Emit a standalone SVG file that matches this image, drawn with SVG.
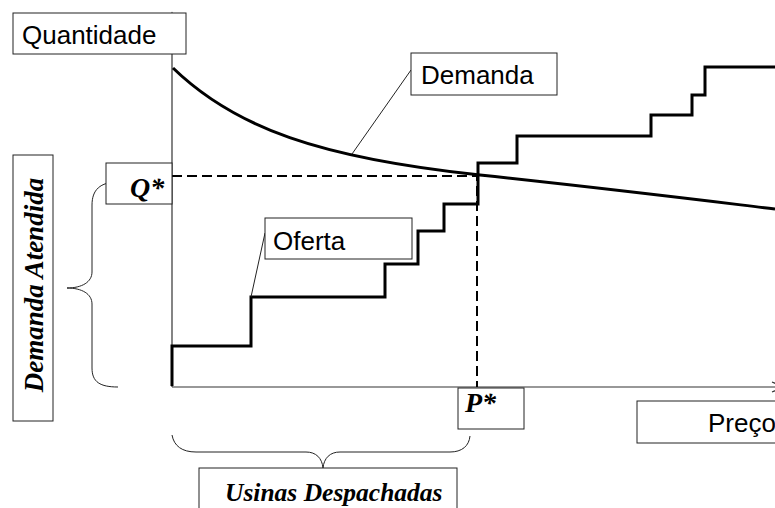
<svg xmlns="http://www.w3.org/2000/svg" width="775" height="508" viewBox="0 0 775 508">
  <style>
    .box { fill: #fff; stroke: #222; stroke-width: 1; }
    .sans { font-family: "Liberation Sans", Arial, sans-serif; font-size: 26px; fill: #000; }
    .serif { font-family: "Liberation Serif", "Times New Roman", serif; font-size: 25px; font-weight: bold; font-style: italic; fill: #000; }
    .big { font-size: 28px; }
    .axis { fill: none; stroke: #333; stroke-width: 1.2; }
    .thin { fill: none; stroke: #222; stroke-width: 1; }
    .curve { fill: none; stroke: #000; stroke-width: 3; stroke-linejoin: miter; }
    .dash { fill: none; stroke: #000; stroke-width: 2; stroke-dasharray: 10 5; }
  </style>
  <rect width="775" height="508" fill="#fff"/>

  <!-- axes -->
  <g id="axes">
    <line class="axis" x1="172" y1="13" x2="172" y2="387"/>
    <polyline class="axis" points="167,24 172,13 177,24"/>
    <line class="axis" x1="172" y1="387" x2="785" y2="387"/>
    <polyline class="axis" points="772,382 784,387 772,392"/>
  </g>

  <!-- connectors: curves, guide lines, leaders and braces -->
  <g id="connectors">
    <!-- equilibrium guides -->
    <polyline class="dash" points="172,176 477,176 477,387"/>
    <!-- demand curve -->
    <path id="demand-curve" class="curve" d="M173,68 C235,128 320,158 480,175 C620,190 700,200 775,209"/>
    <!-- supply step curve -->
    <polyline id="supply-curve" class="curve" points="172,386 172,346 251,346 251,297 385,297 385,264 418,264 418,231 444,231 444,204 478,204 478,163 517,163 517,136 651,136 651,115 692,115 692,95 705,95 705,67 775,67"/>
    <!-- label leaders -->
    <line class="thin" x1="411" y1="70" x2="352" y2="154"/>
    <line class="thin" x1="265" y1="233" x2="251" y2="297"/>
    <!-- left brace -->
    <path class="thin" d="M118,182 C100,182 92,190 92,205 L92,272 C92,282 82,288 67,288 C82,288 92,294 92,304 L92,368 C92,382 100,387 118,387"/>
    <!-- bottom brace -->
    <path class="thin" d="M172,435 C174,446 182,452 196,452 L306,452 C316,452 322,458 323,468 C324,458 330,452 340,452 L450,452 C462,452 469,446 470,436"/>
  </g>

  <g id="quantidade">
    <rect class="box" x="13" y="13" width="173" height="41"/>
    <text class="sans" x="22" y="44">Quantidade</text>
  </g>

  <g id="demanda">
    <rect class="box" x="411" y="53" width="146" height="42"/>
    <text class="sans" x="421" y="84">Demanda</text>
  </g>

  <g id="oferta">
    <rect class="box" x="265" y="218" width="147" height="41"/>
    <text class="sans" x="273" y="250">Oferta</text>
  </g>

  <g id="q-star">
    <rect class="box" x="106" y="163" width="66" height="41"/>
    <text class="serif big" x="130" y="197">Q*</text>
  </g>

  <g id="demanda-atendida">
    <rect class="box" x="13" y="155" width="40" height="266"/>
    <text class="serif" transform="translate(43,285) rotate(-90)" text-anchor="middle" style="font-size:27px">Demanda Atendida</text>
  </g>

  <g id="p-star">
    <rect class="box" x="458" y="388" width="66" height="41"/>
    <text class="serif big" x="465" y="412">P*</text>
  </g>

  <g id="preco">
    <rect class="box" x="637" y="401" width="150" height="42"/>
    <text class="sans" x="708" y="432">Preço</text>
  </g>

  <g id="usinas-despachadas">
    <rect class="box" x="199" y="468" width="258" height="50"/>
    <text class="serif" x="225" y="501" style="font-size:25.5px">Usinas Despachadas</text>
  </g>
</svg>
